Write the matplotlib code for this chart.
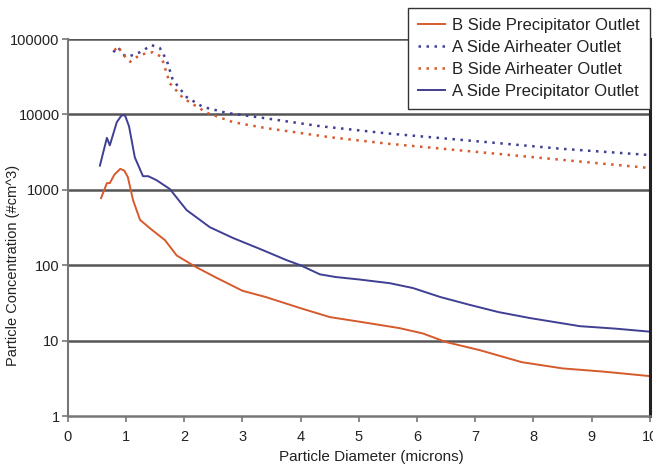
import matplotlib.pyplot as plt
from matplotlib.ticker import FixedLocator, NullLocator, FuncFormatter

plt.rcParams['font.family'] = ['Liberation Sans', 'DejaVu Sans']

# particle size distributions (diameter in microns, concentration in #/cm^3)
b_precip_x = [0.57, 0.67, 0.72, 0.8, 0.9, 0.97, 1.03, 1.12, 1.24, 1.41, 1.67, 1.87, 2.2, 2.56,
              3.0, 3.4, 4.0, 4.5, 5.07, 5.7, 6.1, 6.5, 7.08, 7.8, 8.5, 9.2, 10.0]
b_precip_y = [780, 1230, 1230, 1600, 1900, 1800, 1480, 730, 400, 310, 215, 135, 95, 68,
              46, 38, 27, 20.6, 17.6, 14.7, 12.5, 9.6, 7.5, 5.2, 4.3, 3.9, 3.4]

a_air_x = [0.78, 0.86, 0.95, 1.03, 1.24, 1.44, 1.58, 1.7, 1.8, 2.04, 2.32, 2.73, 3.4, 4.33,
           5.5, 7.2, 8.5, 10.0]
a_air_y = [67000, 78000, 62000, 58000, 67000, 83000, 76000, 52000, 29000, 17000, 12600, 10500,
           8900, 7000, 5600, 4300, 3500, 2900]

b_air_x = [0.8, 0.86, 0.95, 1.07, 1.24, 1.46, 1.61, 1.75, 1.98, 2.39, 2.84, 3.4, 4.5, 5.5,
           7.2, 8.5, 10.0]
b_air_y = [71000, 80000, 62000, 50000, 62000, 67000, 58000, 26000, 16500, 10500, 7900, 6600,
           5000, 4100, 3100, 2500, 1950]

a_precip_x = [0.55, 0.67, 0.72, 0.84, 0.92, 0.98, 1.05, 1.15, 1.29, 1.38, 1.52, 1.75, 2.04,
              2.44, 2.84, 3.3, 3.76, 4.0, 4.33, 4.6, 5.0, 5.53, 5.93, 6.4, 6.9, 7.4, 7.94,
              8.8, 9.4, 10.0]
a_precip_y = [2100, 4900, 3900, 7900, 9700, 9800, 7000, 2700, 1520, 1520, 1350, 1030, 540,
              320, 230, 165, 117, 100, 76, 70, 65, 58, 50, 38, 30, 24, 20, 15.6, 14.5, 13.2]

y_ticks = [1, 10, 100, 1000, 10000, 100000]
x_ticks = list(range(0, 11))

orange = '#d65a2c'
blue = '#3f3f93'
grid_col = '#555555'
text_col = '#222222'

fig = plt.figure(figsize=(6.53, 4.65), dpi=100)
ax = fig.add_axes([0.104, 0.105, 0.891, 0.811])

ax.plot(b_precip_x, b_precip_y, color=orange, lw=1.4, label='B Side Precipitator Outlet')
ax.plot(a_air_x, a_air_y, color=blue, lw=1.8, ls=(0, (1, 2.2)), label='A Side Airheater Outlet')
ax.plot(b_air_x, b_air_y, color=orange, lw=1.8, ls=(0, (1, 2.2)), label='B Side Airheater Outlet')
ax.plot(a_precip_x, a_precip_y, color=blue, lw=1.4, label='A Side Precipitator Outlet')

ax.set_yscale('log')
ax.set_ylim(1, 100000)
ax.set_xlim(0, 10)
ax.yaxis.set_major_locator(FixedLocator(y_ticks))
ax.yaxis.set_minor_locator(NullLocator())
ax.yaxis.set_major_formatter(FuncFormatter(lambda v, p: f'{int(round(v))}'))
ax.xaxis.set_major_locator(FixedLocator(x_ticks))

for v in y_ticks[1:]:
    ax.axhline(v, color=grid_col, lw=1.8, zorder=0)

ax.spines['top'].set_visible(False)
ax.spines['left'].set_color('#777777')
ax.spines['bottom'].set_color('#777777')
ax.spines['left'].set_linewidth(1.5)
ax.spines['bottom'].set_linewidth(1.8)
ax.spines['right'].set_color('#222222')
ax.spines['right'].set_linewidth(2.2)
ax.tick_params(axis='both', direction='out', length=4, width=1.2, color='#777777',
               labelsize=10.5, labelcolor=text_col)
ax.tick_params(axis='x', pad=6)
ax.tick_params(axis='y', pad=2)

# axis titles placed by hand
fig.text(371 / 653, 1 - 457 / 465, 'Particle Diameter (microns)', fontsize=11,
         color=text_col, ha='center', va='center')
fig.text(13 / 653, 1 - 265 / 465, 'Particle Concentration (#cm^3)', fontsize=10.5,
         color=text_col, ha='center', va='center', rotation=90)

leg = ax.legend(loc='upper right', bbox_to_anchor=(650 / 653, 1 - 8 / 465),
                bbox_transform=fig.transFigure, fontsize=12, frameon=True,
                fancybox=False, shadow=False, handlelength=1.6, handletextpad=0.45,
                borderpad=0.6, borderaxespad=0, labelspacing=0.42)
leg.get_frame().set_edgecolor('#333333')
leg.get_frame().set_linewidth(1.0)
leg.get_frame().set_alpha(1)
for t in leg.get_texts():
    t.set_color(text_col)

fig.savefig('out.png', dpi=100)
